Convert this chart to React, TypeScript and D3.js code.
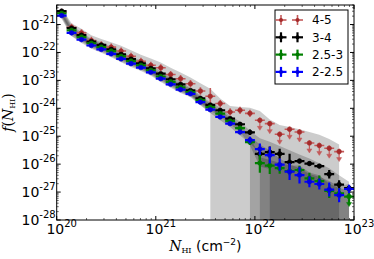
import * as d3 from "d3";

// bin centres, log10 N_HI
const xBins = [
  20.05, 20.15, 20.25, 20.35, 20.45, 20.55, 20.65, 20.75, 20.85, 20.95,
  21.05, 21.15, 21.25, 21.35, 21.45, 21.55, 21.65, 21.75, 21.85, 21.95,
  22.05, 22.15, 22.25, 22.35, 22.45, 22.55, 22.65, 22.75, 22.85, 22.95,
];

// log10 f(N_HI) per redshift bin
const red = [
  -20.56, -21.1, -21.3, -21.57, -21.73, -21.81, -21.95, -22.14, -22.32, -22.46,
  -22.55, -22.79, -22.94, -23.12, -23.38, -23.57, -23.83, -24.13, -24.07, -24.18,
  -24.43, -24.55, -24.93, -24.75, -24.85, -25.24, -25.33, -25.43, -25.55,
];
const black = [
  -20.52, -21.13, -21.38, -21.61, -21.73, -21.89, -22.07, -22.24, -22.39, -22.57,
  -22.76, -22.96, -23.14, -23.36, -23.64, -23.88, -24.07, -24.37, -24.57, -24.86,
  -25.63, -25.57, -25.63, -25.93, -25.89, -25.98, -26.07, -26.36, -26.73, -26.86,
];
const green = [
  -20.6, -21.21, -21.45, -21.67, -21.81, -21.95, -22.14, -22.31, -22.46, -22.64,
  -22.86, -23.05, -23.25, -23.42, -23.71, -23.96, -24.19, -24.46, -24.71, -25.21,
  -25.96, -26.05, -26.14, -26.25, -26.21, -26.51, -26.61, -26.96, -27.05, -27.16,
];
const blue = [
  -20.68, -21.3, -21.54, -21.75, -21.89, -22.05, -22.23, -22.4, -22.54, -22.71,
  -22.94, -23.14, -23.33, -23.48, -23.78, -24.05, -24.31, -24.55, -24.85, -25.14,
  -25.46, -25.68, -26.02, -26.27, -26.39, -26.63, -26.71, -26.91, -27.11, -26.89,
];

// vertical errors (decades)
const redErr = [
  0.13, 0.13, 0.13, 0.13, 0.13, 0.13, 0.13, 0.13, 0.13, 0.13,
  0.13, 0.13, 0.13, 0.13, 0.13, 0.3, 0.13, 0.13, 0.13, 0.13,
  0.1, 0.1, 0.1, 0.1, 0.1, 0.1, 0.1, 0.1, 0.1,
];
const blackErr = [
  0.05, 0.05, 0.05, 0.05, 0.05, 0.05, 0.05, 0.05, 0.05, 0.05,
  0.05, 0.05, 0.05, 0.05, 0.05, 0.05, 0.05, 0.06, 0.08, 0.1,
  0.2, 0.2, 0.18, 0.3, 0.08, 0.08, 0.08, 0.15, 0.15, 0.1,
];
const greenErr = [
  0.05, 0.05, 0.05, 0.05, 0.05, 0.05, 0.05, 0.05, 0.05, 0.05,
  0.05, 0.05, 0.05, 0.05, 0.05, 0.05, 0.05, 0.06, 0.08, 0.1,
  0.35, 0.3, 0.2, 0.15, 0.15, 0.2, 0.2, 0.25, 0.2, 0.25,
];
const blueErr = [
  0.05, 0.05, 0.05, 0.05, 0.05, 0.05, 0.05, 0.05, 0.05, 0.05,
  0.05, 0.05, 0.05, 0.05, 0.05, 0.05, 0.05, 0.06, 0.08, 0.12,
  0.2, 0.3, 0.22, 0.3, 0.3, 0.2, 0.2, 0.25, 0.25, 0.15,
];

// upper limits (index lists)
const redLimits = [20, 21, 22, 23, 24, 25, 26, 27, 28];
const greenLimits = [29];

// shaded ranges (log10 upper / lower; lower ends where it drops to zero)
const redBandHi = [
  -20.42, -20.95, -21.15, -21.38, -21.52, -21.63, -21.76, -21.92, -22.08, -22.22,
  -22.36, -22.55, -22.72, -22.9, -23.1, -23.3, -23.65, -23.92, -23.95, -23.98,
  -24.1, -24.4, -24.6, -24.67, -24.75, -24.85, -24.95, -25.1, -25.3,
];
const redBandLo = [
  -20.75, -21.4, -21.62, -21.83, -21.97, -22.13, -22.32, -22.48, -22.62, -22.8,
  -23.02, -23.22, -23.42, -23.57, -23.87, -24.15,
];
const blackBandHi = [
  -20.42, -21.03, -21.28, -21.51, -21.63, -21.79, -21.97, -22.14, -22.29, -22.47,
  -22.66, -22.86, -23.04, -23.26, -23.54, -23.78, -23.97, -24.27, -24.47, -24.8,
  -25.07, -25.2, -25.35, -25.5, -25.65, -25.8, -25.97, -26.15, -26.4, -26.63,
];
const blackBandLo = [
  -20.67, -21.28, -21.53, -21.76, -21.88, -22.04, -22.22, -22.39, -22.54, -22.72,
  -22.91, -23.11, -23.29, -23.51, -23.79, -24.03, -24.22, -24.52, -24.72, -25.0,
];
const greenBandHi = [
  -20.48, -21.09, -21.33, -21.55, -21.69, -21.83, -22.02, -22.19, -22.34, -22.52,
  -22.74, -22.93, -23.13, -23.3, -23.59, -23.84, -24.07, -24.34, -24.59, -25.0,
  -25.75, -25.85, -25.95, -26.05, -26.05, -26.3, -26.4, -26.7, -26.85, -26.95,
];
const greenBandLo = [
  -20.72, -21.33, -21.57, -21.79, -21.93, -22.07, -22.26, -22.43, -22.58, -22.76,
  -22.98, -23.17, -23.37, -23.54, -23.83, -24.08, -24.31, -24.58, -24.83, -25.33,
  -26.08, -26.17,
];
const blueBandHi = [
  -20.55, -21.18, -21.42, -21.63, -21.77, -21.93, -22.11, -22.28, -22.42, -22.59,
  -22.82, -23.02, -23.21, -23.36, -23.66, -23.93, -24.19, -24.43, -24.73, -25.0,
  -25.3, -25.5, -25.8, -26.0, -26.15, -26.35, -26.45, -26.6, -26.8, -26.7,
];
const blueBandLo = [
  -20.8, -21.42, -21.66, -21.87, -22.01, -22.17, -22.35, -22.52, -22.66, -22.83,
  -23.06, -23.26, -23.45, -23.6, -23.9, -24.17, -24.43, -24.67, -24.97, -25.26,
  -25.58,
];

const labels = ["4-5", "3-4", "2.5-3", "2-2.5"];
const xTicks = [20, 21, 22, 23];
const yTicks = [-21, -22, -23, -24, -25, -26, -27, -28];

const W = 374;
const H = 259;
const L = 56.7, R = 354, T = 5, B = 220;

const x = d3.scaleLog().domain([1e20, 1e23]).range([L, R]);
const y = d3.scaleLog().domain([1e-28, Math.pow(10, -20.3)]).range([B, T]);
const px = (lg: number) => x(Math.pow(10, lg));
const py = (lg: number) => y(Math.pow(10, lg));
const halfBin = 0.05;

function bandPath(hi: number[], lo: number[]) {
  const pts: [number, number][] = [];
  hi.forEach((v, i) => pts.push([px(xBins[i]), py(v)]));
  pts.push([px(xBins[hi.length - 1]), B + 2]);
  pts.push([px(xBins[lo.length - 1]), B + 2]);
  for (let i = lo.length - 1; i >= 0; i--) pts.push([px(xBins[i]), py(lo[i])]);
  return d3.line()(pts) + "Z";
}

interface Series {
  vals: number[];
  err: number[];
  limits: number[];
  color: string;
  bar: string;
  width: number;
}

const series: Series[] = [
  { vals: red, err: redErr, limits: redLimits, color: "#a52a2a", bar: "#c35a5a", width: 1.6 },
  { vals: black, err: blackErr, limits: [], color: "#000000", bar: "#000000", width: 2.2 },
  { vals: green, err: greenErr, limits: greenLimits, color: "#007a00", bar: "#008000", width: 2.2 },
  { vals: blue, err: blueErr, limits: [], color: "#0000e0", bar: "#0000ff", width: 2.2 },
];

const bands = [
  [redBandHi, redBandLo],
  [blackBandHi, blackBandLo],
  [greenBandHi, greenBandLo],
  [blueBandHi, blueBandLo],
];

function Arrow({ cx, cy, color }: { cx: number; cy: number; color: string }) {
  return (
    <g stroke={color} fill={color} strokeWidth={1.2}>
      <line x1={cx} y1={cy} x2={cx} y2={cy + 8} />
      <path d={`M${cx - 2.5},${cy + 6} L${cx},${cy + 10} L${cx + 2.5},${cy + 6}Z`} strokeWidth={0.5} />
    </g>
  );
}

export default function App() {
  const minorX: number[] = [];
  for (let d = 20; d < 23; d++) for (let k = 2; k < 10; k++) minorX.push(k * Math.pow(10, d));
  const minorY: number[] = [];
  for (let d = -28; d < -20; d++)
    for (let k = 2; k < 10; k++) {
      const v = k * Math.pow(10, d);
      if (v < Math.pow(10, -20.3)) minorY.push(v);
    }

  return (
    <svg
      width={W}
      height={H}
      style={{ position: "absolute", left: 0, top: 0, background: "#fff" }}
      fontFamily="DejaVu Sans, sans-serif"
    >
      <defs>
        <clipPath id="plot">
          <rect x={L} y={T} width={R - L} height={B - T} />
        </clipPath>
      </defs>
      <rect x={0} y={0} width={W} height={H} fill="#fff" />

      <g clipPath="url(#plot)">
        {bands.map(([hi, lo], i) => (
          <path key={i} d={bandPath(hi, lo)} fill="#000" fillOpacity={0.2} stroke="none" />
        ))}

        {series.map((s, si) => (
          <g key={si}>
            {s.vals.map((v, i) => {
              const cx = px(xBins[i]);
              const cy = py(v);
              return (
                <g key={i}>
                  <line
                    x1={px(xBins[i] - halfBin)}
                    x2={px(xBins[i] + halfBin)}
                    y1={cy}
                    y2={cy}
                    stroke={s.bar}
                    strokeWidth={s.width}
                  />
                  <line
                    x1={cx}
                    x2={cx}
                    y1={py(v + s.err[i])}
                    y2={py(v - s.err[i])}
                    stroke={s.bar}
                    strokeWidth={s.width}
                  />
                  {s.limits.includes(i) && <Arrow cx={cx} cy={cy} color={s.bar} />}
                  <circle cx={cx} cy={cy} r={2.3} fill={s.color} stroke={s.color} strokeWidth={0.6} />
                </g>
              );
            })}
          </g>
        ))}
      </g>

      {/* frame and ticks */}
      <rect x={L} y={T} width={R - L} height={B - T} fill="none" stroke="#000" strokeWidth={1} />
      {xTicks.map((t) => (
        <g key={t}>
          <line x1={px(t)} x2={px(t)} y1={B} y2={B - 4} stroke="#000" />
          <line x1={px(t)} x2={px(t)} y1={T} y2={T + 4} stroke="#000" />
        </g>
      ))}
      {minorX.map((v, i) => (
        <g key={i}>
          <line x1={x(v)} x2={x(v)} y1={B} y2={B - 2} stroke="#000" strokeWidth={0.6} />
          <line x1={x(v)} x2={x(v)} y1={T} y2={T + 2} stroke="#000" strokeWidth={0.6} />
        </g>
      ))}
      {yTicks.map((t) => (
        <g key={t}>
          <line x1={L} x2={L + 4} y1={py(t)} y2={py(t)} stroke="#000" />
          <line x1={R} x2={R - 4} y1={py(t)} y2={py(t)} stroke="#000" />
        </g>
      ))}
      {minorY.map((v, i) => (
        <g key={i}>
          <line x1={L} x2={L + 2} y1={y(v)} y2={y(v)} stroke="#000" strokeWidth={0.6} />
          <line x1={R} x2={R - 2} y1={y(v)} y2={y(v)} stroke="#000" strokeWidth={0.6} />
        </g>
      ))}

      {/* tick labels */}
      {xTicks.map((t) => (
        <text key={t} x={px(t) + 5} y={234} textAnchor="middle" fontSize={14} fill="#000">
          <tspan>10</tspan>
          <tspan dy={-7} fontSize={10}>{t}</tspan>
        </text>
      ))}
      {yTicks.map((t) => (
        <text key={t} x={L - 1} y={py(t) + 5} textAnchor="end" fontSize={14} fill="#000">
          <tspan>10</tspan>
          <tspan dy={-7} fontSize={10}>{t}</tspan>
        </text>
      ))}

      {/* axis labels */}
      <text x={(L + R) / 2} y={251} textAnchor="middle" fontSize={14} fill="#000">
        <tspan fontFamily="DejaVu Serif, serif" fontStyle="italic">N</tspan>
        <tspan fontFamily="DejaVu Serif, serif" fontSize={8} dy={2}>HI</tspan>
        <tspan dy={-2}> (cm</tspan>
        <tspan fontSize={9} dy={-6}>−2</tspan>
        <tspan dy={6}>)</tspan>
      </text>
      <text
        transform={`translate(13,${(T + B) / 2}) rotate(-90)`}
        textAnchor="middle"
        fontSize={14}
        fill="#000"
        fontFamily="DejaVu Serif, serif"
      >
        <tspan fontStyle="italic">f</tspan>
        <tspan>(</tspan>
        <tspan fontStyle="italic">N</tspan>
        <tspan fontSize={8} dy={2}>HI</tspan>
        <tspan dy={-2}>)</tspan>
      </text>

      {/* legend */}
      <rect x={275} y={10} width={73} height={74} fill="#fff" stroke="#000" strokeWidth={1} />
      {series.map((s, i) => {
        const ly = 20 + i * 17.3;
        return (
          <g key={i}>
            {[281, 297.5].map((lx) => (
              <g key={lx}>
                <line x1={lx - 5.5} x2={lx + 5.5} y1={ly} y2={ly} stroke={s.bar} strokeWidth={s.width} />
                <line x1={lx} x2={lx} y1={ly - 5} y2={ly + 5} stroke={s.bar} strokeWidth={s.width} />
                <circle cx={lx} cy={ly} r={2} fill={s.color} />
              </g>
            ))}
            <text x={312} y={ly + 4.3} fontSize={12} fill="#000">
              {labels[i]}
            </text>
          </g>
        );
      })}
    </svg>
  );
}
